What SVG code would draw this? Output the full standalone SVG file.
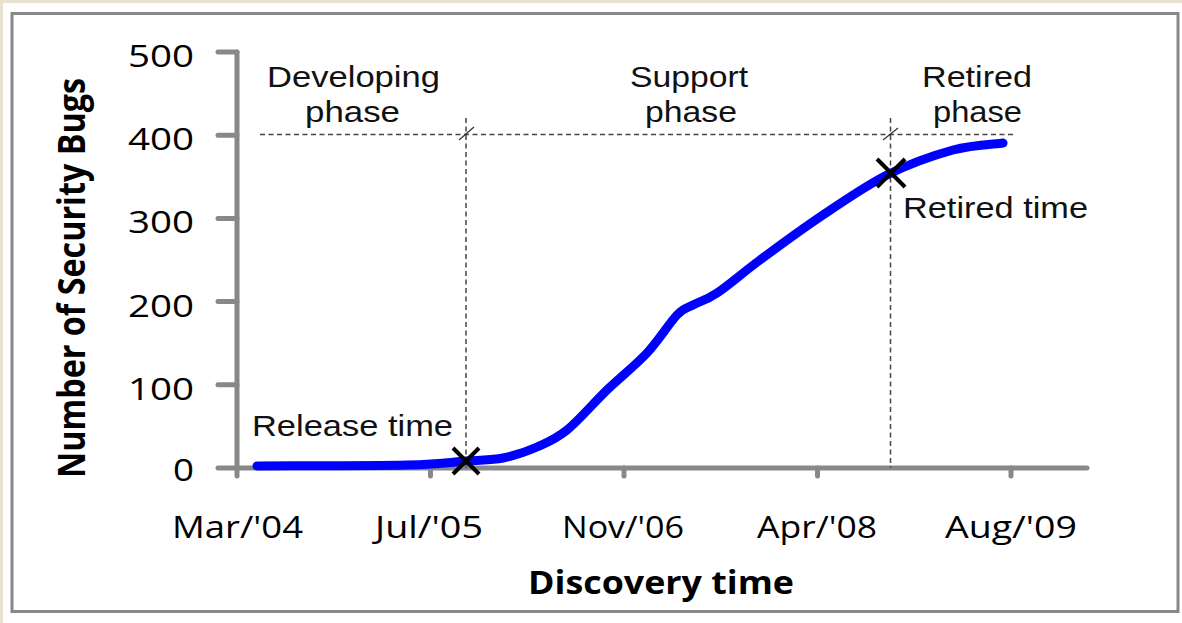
<svg xmlns="http://www.w3.org/2000/svg" width="1182" height="623" viewBox="0 0 1182 623">
<style>
.axis{stroke:#888;stroke-width:5;stroke-linecap:round;fill:none}
.dash{stroke:#444;stroke-width:1.5;stroke-dasharray:5 3.5;fill:none}
.slash{stroke:#333;stroke-width:1.3}
.mark{stroke:#000;stroke-width:4;stroke-linecap:butt}
.tick{font-family:"Open Sans","DejaVu Sans",sans-serif;font-size:31px;fill:#000}
.title{font-family:"Open Sans","DejaVu Sans",sans-serif;font-weight:bold;fill:#000}
.ann{font-family:"Liberation Sans",Arial,sans-serif;font-size:30px;fill:#111}
</style>
<rect x="0" y="0" width="1182" height="623" fill="#fff"/>
<rect x="0" y="0" width="1182" height="3" fill="#e6e2cf"/>
<rect x="0" y="0" width="3" height="623" fill="#e6e2cf"/>
<rect x="12" y="13.5" width="1166" height="598" fill="#fff" stroke="#888" stroke-width="3"/>

<g id="axes">
  <path class="axis" d="M237 52 V468 M218 468 H1087"/>
  <path class="axis" d="M218 52 H237 M218 135.2 H237 M218 218.4 H237 M218 301.6 H237 M218 384.8 H237"/>
  <path class="axis" d="M237 468 V476 M430.5 468 V476 M624 468 V476 M817.5 468 V476 M1011 468 V476"/>
</g>

<g id="y-labels" class="tick" text-anchor="end">
  <text x="194" y="67" textLength="66" lengthAdjust="spacingAndGlyphs">500</text>
  <text x="194" y="150" textLength="66" lengthAdjust="spacingAndGlyphs">400</text>
  <text x="194" y="233" textLength="66" lengthAdjust="spacingAndGlyphs">300</text>
  <text x="194" y="316.5" textLength="66" lengthAdjust="spacingAndGlyphs">200</text>
  <text x="194" y="399.5" textLength="66" lengthAdjust="spacingAndGlyphs">100</text>
  <text x="194" y="481" textLength="21" lengthAdjust="spacingAndGlyphs">0</text>
</g>

<g id="x-labels" class="tick" text-anchor="middle">
  <text x="237.5" y="538" textLength="131" lengthAdjust="spacingAndGlyphs">Mar/'04</text>
  <text x="429" y="538" textLength="108" lengthAdjust="spacingAndGlyphs">Jul/'05</text>
  <text x="623" y="538" textLength="122" lengthAdjust="spacingAndGlyphs">Nov/'06</text>
  <text x="817" y="538" textLength="120" lengthAdjust="spacingAndGlyphs">Apr/'08</text>
  <text x="1011" y="538" textLength="132" lengthAdjust="spacingAndGlyphs">Aug/'09</text>
</g>

<g id="axis-titles" class="title">
  <text x="661" y="594" font-size="33" text-anchor="middle" textLength="266" lengthAdjust="spacingAndGlyphs">Discovery time</text>
  <text transform="translate(85 278) rotate(-90)" x="0" y="0" font-size="37" text-anchor="middle" textLength="400" lengthAdjust="spacingAndGlyphs">Number of Security Bugs</text>
</g>

<g id="phase-lines">
  <path class="dash" d="M260 134.5 H1013"/>
  <path class="dash" d="M466 118 V468"/>
  <path class="dash" d="M890.5 118 V468"/>
  <path class="slash" d="M459 140 L474 127 M883 140 L898 128"/>
</g>

<g id="curve">
  <path d="M257 466 C282 465.8 372.2 465.8 407 465 C441.8 464.2 450 462.2 466 461 C482 459.8 491.2 460.3 503 458 C514.8 455.7 526.3 451.7 537 447 C547.7 442.3 555.3 439.5 567 430 C578.7 420.5 593.7 402.8 607 390 C620.3 377.2 635.3 365.5 647 353 C658.7 340.5 669.3 323 677 315 C684.7 307 686.3 308.7 693 305 C699.7 301.3 705.8 300.5 717 293 C728.2 285.5 742.8 272.7 760 260 C777.2 247.3 798.8 231.2 820 217 C841.2 202.8 864.8 186.2 887 175 C909.2 163.8 933.7 155.3 953 150 C972.3 144.7 994.7 144.2 1003 143" fill="none" stroke="#0000ff" stroke-width="9" stroke-linecap="round" stroke-linejoin="round"/>
</g>

<g id="release-marker">
  <path class="mark" d="M453 448 L479 474 M453 474 L479 448"/>
  <text class="ann" x="252" y="436" textLength="201" lengthAdjust="spacingAndGlyphs">Release time</text>
</g>

<g id="retired-marker">
  <path class="mark" d="M877 159 L905 187 M877 187 L905 159"/>
  <text class="ann" x="903" y="218" textLength="185" lengthAdjust="spacingAndGlyphs">Retired time</text>
</g>

<g id="developing-phase" class="ann" text-anchor="middle">
  <text x="353.5" y="87" textLength="173" lengthAdjust="spacingAndGlyphs">Developing</text>
  <text x="352.5" y="122" textLength="95" lengthAdjust="spacingAndGlyphs">phase</text>
</g>

<g id="support-phase" class="ann" text-anchor="middle">
  <text x="689" y="87" textLength="118" lengthAdjust="spacingAndGlyphs">Support</text>
  <text x="691" y="122" textLength="92" lengthAdjust="spacingAndGlyphs">phase</text>
</g>

<g id="retired-phase" class="ann" text-anchor="middle">
  <text x="977" y="87" textLength="110" lengthAdjust="spacingAndGlyphs">Retired</text>
  <text x="977.5" y="122" textLength="89" lengthAdjust="spacingAndGlyphs">phase</text>
</g>
</svg>
